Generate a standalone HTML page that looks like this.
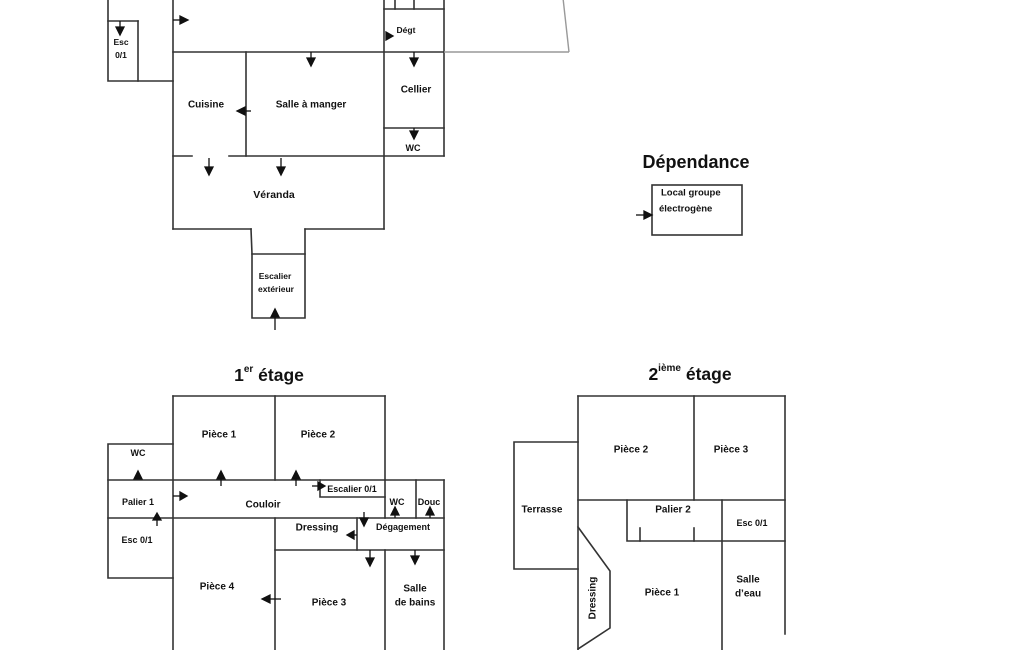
<!DOCTYPE html>
<html><head><meta charset="utf-8"><style>
html,body{margin:0;padding:0;background:#fff;}
svg{display:block;}
text{font-family:"Liberation Sans",sans-serif;font-weight:bold;fill:#111;text-anchor:middle;dominant-baseline:central;}
</style></head><body>
<svg width="1025" height="650" viewBox="0 0 1025 650" xmlns="http://www.w3.org/2000/svg">
<g stroke="#333" stroke-width="1.6" fill="none" stroke-linecap="square">
<!-- Ground floor -->
<polyline points="108,-5 108,81 173,81"/>
<polyline points="138,21 108,21"/>
<line x1="138" y1="21" x2="138" y2="81"/>
<line x1="173" y1="-5" x2="173" y2="229"/>
<line x1="173" y1="52" x2="444" y2="52"/>
<line x1="384" y1="-5" x2="384" y2="229"/>
<line x1="444" y1="-5" x2="444" y2="156"/>
<line x1="395" y1="-5" x2="395" y2="9"/>
<line x1="414" y1="-5" x2="414" y2="9"/>
<line x1="384" y1="9" x2="444" y2="9"/>
<line x1="384" y1="128" x2="444" y2="128"/>
<line x1="246" y1="52" x2="246" y2="156"/>
<line x1="173" y1="156" x2="192" y2="156"/>
<line x1="229" y1="156" x2="444" y2="156"/>
<line x1="173" y1="229" x2="251" y2="229"/>
<line x1="305" y1="229" x2="384" y2="229"/>
<polyline points="251,229 252,254 252,318 305,318 305,229"/>
<line x1="252" y1="254" x2="305" y2="254"/>
<!-- dependance box -->
<rect x="652" y="185" width="90" height="50"/>
<!-- 1er étage -->
<line x1="173" y1="396" x2="385" y2="396"/>
<line x1="173" y1="396" x2="173" y2="655"/>
<line x1="385" y1="396" x2="385" y2="480"/>
<line x1="275" y1="396" x2="275" y2="480"/>
<polyline points="173,444 108,444 108,578 173,578"/>
<line x1="108" y1="480" x2="444" y2="480"/>
<line x1="108" y1="518" x2="444" y2="518"/>
<line x1="444" y1="480" x2="444" y2="655"/>
<polyline points="320,480 320,497 385,497"/>
<line x1="385" y1="480" x2="385" y2="518"/>
<line x1="416" y1="480" x2="416" y2="518"/>
<line x1="275" y1="518" x2="275" y2="655"/>
<line x1="357" y1="518" x2="357" y2="550"/>
<line x1="275" y1="550" x2="444" y2="550"/>
<line x1="385" y1="550" x2="385" y2="655"/>
<!-- 2eme étage -->
<line x1="578" y1="396" x2="785" y2="396"/>
<line x1="578" y1="396" x2="578" y2="655"/>
<line x1="785" y1="396" x2="785" y2="634"/>
<line x1="694" y1="396" x2="694" y2="500"/>
<line x1="578" y1="500" x2="785" y2="500"/>
<polyline points="578,442 514,442 514,569 578,569"/>
<polyline points="627,500 627,541 785,541"/>
<line x1="722" y1="500" x2="722" y2="655"/>
<line x1="640" y1="528" x2="640" y2="541"/>
<line x1="694" y1="528" x2="694" y2="541"/>
<polyline points="578,527 610,571 610,628 578,649"/>
</g>
<g stroke="#999" stroke-width="1.4" fill="none">
<line x1="444" y1="52" x2="569" y2="52"/>
<line x1="563" y1="-2" x2="569" y2="52"/>
</g>
<!-- arrows -->
<g stroke="#111" stroke-width="1.3" fill="#111">
<line x1="173" y1="20" x2="181" y2="20"/><polygon points="180,16 180,24 188,20"/>
<line x1="120" y1="21" x2="120" y2="28"/><polygon points="116,27 124,27 120,35"/>
<polygon points="386,32 386,40 393,36"/>
<line x1="311" y1="52" x2="311" y2="59"/><polygon points="307,58 315,58 311,66"/>
<line x1="414" y1="52" x2="414" y2="59"/><polygon points="410,58 418,58 414,66"/>
<line x1="414" y1="128" x2="414" y2="132"/><polygon points="410,131 418,131 414,139"/>
<line x1="251" y1="111" x2="244" y2="111"/><polygon points="245,107 245,115 237,111"/>
<line x1="209" y1="158" x2="209" y2="168"/><polygon points="205,167 213,167 209,175"/>
<line x1="281" y1="158" x2="281" y2="168"/><polygon points="277,167 285,167 281,175"/>
<line x1="275" y1="330" x2="275" y2="316"/><polygon points="271,317 279,317 275,309"/>
<line x1="636" y1="215" x2="645" y2="215"/><polygon points="644,211 644,219 652,215"/>
<!-- 1er -->
<polygon points="134,479 142,479 138,471"/>
<line x1="221" y1="486" x2="221" y2="478"/><polygon points="217,479 225,479 221,471"/>
<line x1="296" y1="486" x2="296" y2="478"/><polygon points="292,479 300,479 296,471"/>
<line x1="312" y1="486" x2="318" y2="486"/><polygon points="318,482 318,490 325,486"/>
<line x1="173" y1="496" x2="180" y2="496"/><polygon points="180,492 180,500 187,496"/>
<line x1="157" y1="526" x2="157" y2="519"/><polygon points="153,520 161,520 157,513"/>
<line x1="395" y1="518" x2="395" y2="514"/><polygon points="391,515 399,515 395,507"/>
<line x1="430" y1="518" x2="430" y2="514"/><polygon points="426,515 434,515 430,507"/>
<line x1="364" y1="512" x2="364" y2="519"/><polygon points="360,518 368,518 364,526"/>
<line x1="357" y1="535" x2="353" y2="535"/><polygon points="354,531 354,539 347,535"/>
<line x1="370" y1="550" x2="370" y2="559"/><polygon points="366,558 374,558 370,566"/>
<line x1="415" y1="550" x2="415" y2="557"/><polygon points="411,556 419,556 415,564"/>
<line x1="281" y1="599" x2="268" y2="599"/><polygon points="270,595 270,603 262,599"/>
</g>
<!-- labels ground -->
<text x="121" y="42" font-size="8.5">Esc</text>
<text x="121" y="55" font-size="8.5">0/1</text>
<text x="406" y="30" font-size="8.5">Dégt</text>
<text x="416" y="90" font-size="10">Cellier</text>
<text x="206" y="105" font-size="10">Cuisine</text>
<text x="311" y="105" font-size="10">Salle à manger</text>
<text x="413" y="148" font-size="9">WC</text>
<text x="274" y="195" font-size="10.5">Véranda</text>
<text x="275" y="276" font-size="8.5">Escalier</text>
<text x="276" y="289" font-size="8.5">extérieur</text>
<text x="696" y="162" font-size="18">Dépendance</text>
<text x="661" y="193" font-size="9.5" style="text-anchor:start">Local groupe</text>
<text x="659" y="209" font-size="9.5" style="text-anchor:start">électrogène</text>
<!-- 1er -->
<text x="269" y="375" font-size="17.5">1<tspan font-size="10" dy="-6">er</tspan><tspan dy="6"> étage</tspan></text>
<text x="138" y="453" font-size="9">WC</text>
<text x="219" y="435" font-size="10">Pièce 1</text>
<text x="318" y="435" font-size="10">Pièce 2</text>
<text x="138" y="502" font-size="9">Palier 1</text>
<text x="263" y="505" font-size="10">Couloir</text>
<text x="352" y="489" font-size="9">Escalier 0/1</text>
<text x="397" y="502" font-size="9">WC</text>
<text x="429" y="502" font-size="9">Douc</text>
<text x="317" y="528" font-size="10">Dressing</text>
<text x="403" y="527" font-size="9">Dégagement</text>
<text x="137" y="540" font-size="9">Esc 0/1</text>
<text x="217" y="587" font-size="10">Pièce 4</text>
<text x="329" y="603" font-size="10">Pièce 3</text>
<text x="415" y="589" font-size="10">Salle</text>
<text x="415" y="603" font-size="10">de bains</text>
<!-- 2eme -->
<text x="690" y="374" font-size="17.5">2<tspan font-size="10" dy="-6">ième</tspan><tspan dy="6"> étage</tspan></text>
<text x="631" y="450" font-size="10">Pièce 2</text>
<text x="731" y="450" font-size="10">Pièce 3</text>
<text x="542" y="510" font-size="10">Terrasse</text>
<text x="673" y="510" font-size="10">Palier 2</text>
<text x="752" y="523" font-size="9">Esc 0/1</text>
<text x="662" y="593" font-size="10">Pièce 1</text>
<text x="748" y="580" font-size="10">Salle</text>
<text x="748" y="594" font-size="10">d’eau</text>
<text x="593" y="598" font-size="10" transform="rotate(-90 593 598)">Dressing</text>
</svg>
</body></html>
